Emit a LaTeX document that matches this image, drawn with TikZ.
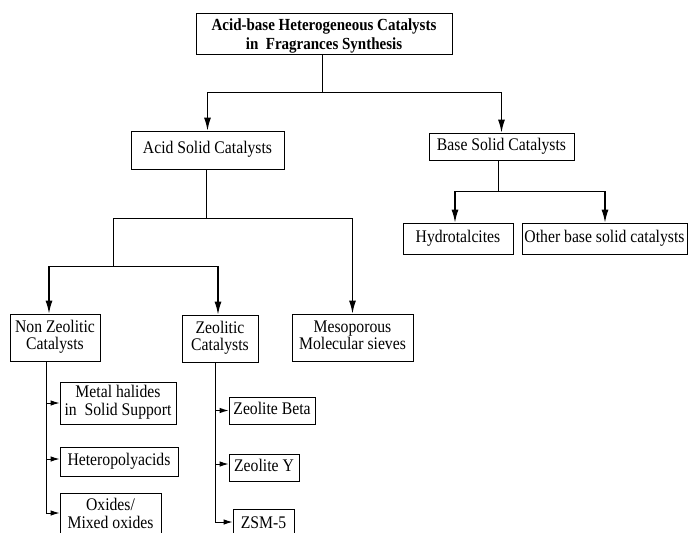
\documentclass[tikz,border=0pt]{standalone}
\usepackage{fontspec}
\setmainfont{Liberation Serif}
\usetikzlibrary{arrows.meta}
\newcommand\boxfont{\fontsize{15.7}{15.2}\selectfont}
\newcommand\titlefont{\fontsize{15}{16.3}\selectfont\bfseries}
\newcommand\vtext[1]{\scalebox{1}[1.13]{\begin{tabular}{@{}c@{}}#1\end{tabular}}}
\begin{document}
\begin{tikzpicture}[x=1pt,y=-1pt,
  box/.style={draw, line width=0.8pt, inner sep=0pt, align=center, font=\boxfont},
  conn/.style={line width=0.8pt},
  arr/.style={line width=1.3pt, -{Latex[length=13pt,width=7pt]}},
  subarr/.style={line width=1pt, -{Latex[length=9pt,width=5.5pt]}}]
\useasboundingbox (0,0) rectangle (689,533);
\begin{scope}
\clip (0,0) rectangle (689,533);
% nodes
\node[box, font=\titlefont, minimum width=256pt, minimum height=41pt] (top) at (324,33.5) {};
\node[font=\titlefont, inner sep=0pt] (toptext) at ([yshift=-3pt]top.center)
  {\vtext{Acid-base Heterogeneous Catalysts\\in\ \ Fragrances Synthesis}};
\node[box, minimum width=153pt, minimum height=38pt] (acid) at (207.5,150) {\vtext{Acid Solid Catalysts}};
\node[box, minimum width=145pt, minimum height=27pt] (base) at (501.5,146.5) {\vtext{Base Solid Catalysts}};
\node[box, minimum width=110pt, minimum height=31pt] (hydro) at (458,238.5) {\vtext{Hydrotalcites}};
\node[box, minimum width=165pt, minimum height=31pt] (other) at (604.5,238.5) {\vtext{Other base solid catalysts}};
\node[box, minimum width=90pt, minimum height=47pt] (nonz) at (55,337.5) {\vtext{Non Zeolitic\\Catalysts}};
\node[box, minimum width=76pt, minimum height=47pt] (zeol) at (220,338.5) {\vtext{Zeolitic\\Catalysts}};
\node[box, minimum width=121pt, minimum height=47pt] (meso) at (352.5,337.5) {\vtext{Mesoporous\\Molecular sieves}};
\node[box, minimum width=116pt, minimum height=42pt] (metal) at (118,403) {\vtext{Metal halides\\in\ \ Solid Support}};
\node[box, minimum width=118pt, minimum height=29pt] (hetero) at (119,461.5) {\vtext{Heteropolyacids}};
\node[box, minimum width=101pt, minimum height=46pt] (oxides) at (110.5,516) {\vtext{Oxides/\\Mixed oxides}};
\node[box, minimum width=86pt, minimum height=27pt] (zbeta) at (272,410.5) {\vtext{Zeolite Beta}};
\node[box, minimum width=70pt, minimum height=27pt] (zy) at (264,467.5) {\vtext{Zeolite Y}};
\node[box, minimum width=61pt, minimum height=31pt] (zsm) at (263.5,525) {\vtext{ZSM-5}};
% junction coordinates
\coordinate (tj) at (322,92);
\coordinate (aj) at (206,218);
\coordinate (lj) at (113,266);
\coordinate (bj) at (498,191);
\coordinate (nzl) at (46,361);
\coordinate (zl) at (215,362);
% top level
\draw[conn] ([xshift=-2pt]top.south) -- (tj);
\draw[conn] (tj) -- (tj -| acid.north);
\draw[conn] (tj) -- (tj -| base.north);
\draw[arr] (tj -| acid.north) -- (acid.north);
\draw[arr] (tj -| base.north) -- (base.north);
% acid branch
\draw[conn] ([xshift=-1.5pt]acid.south) -- (aj);
\draw[conn] (aj) -- (aj -| lj);
\draw[conn] (aj -| lj) -- (lj);
\draw[conn] (aj) -- (aj -| meso.north);
\draw[arr] (aj -| meso.north) -- (meso.north);
\draw[conn] (lj) -- (lj -| 49,0);
\draw[conn] (lj) -- (lj -| 218,0);
\draw[arr] (lj -| 49,0) -- ([xshift=-6pt]nonz.north);
\draw[arr] (lj -| 218,0) -- ([xshift=-2pt]zeol.north);
% base branch
\draw[conn] ([xshift=-3.5pt]base.south) -- (bj);
\draw[conn] (bj) -- (bj -| 455,0);
\draw[conn] (bj) -- (bj -| 605,0);
\draw[arr] (bj -| 455,0) -- ([xshift=-3pt]hydro.north);
\draw[arr] (bj -| 605,0) -- ([xshift=0.5pt]other.north);
% non zeolitic sub-items
\draw[conn, line width=1pt] (nzl) -- (nzl |- 0,513);
\draw[subarr] (nzl |- metal.west) -- (metal.west);
\draw[subarr] (nzl |- 0,459) -- (hetero.west |- 0,459);
\draw[subarr] (nzl |- 0,513) -- (oxides.west |- 0,513);
% zeolitic sub-items
\draw[conn, line width=1pt] (zl) -- (zl |- 0,522);
\draw[subarr] (zl |- zbeta.west) -- (zbeta.west);
\draw[subarr] (zl |- 0,464) -- (zy.west |- 0,464);
\draw[subarr] (zl |- 0,522) -- (zsm.west |- 0,522);
\end{scope}
\end{tikzpicture}
\end{document}
